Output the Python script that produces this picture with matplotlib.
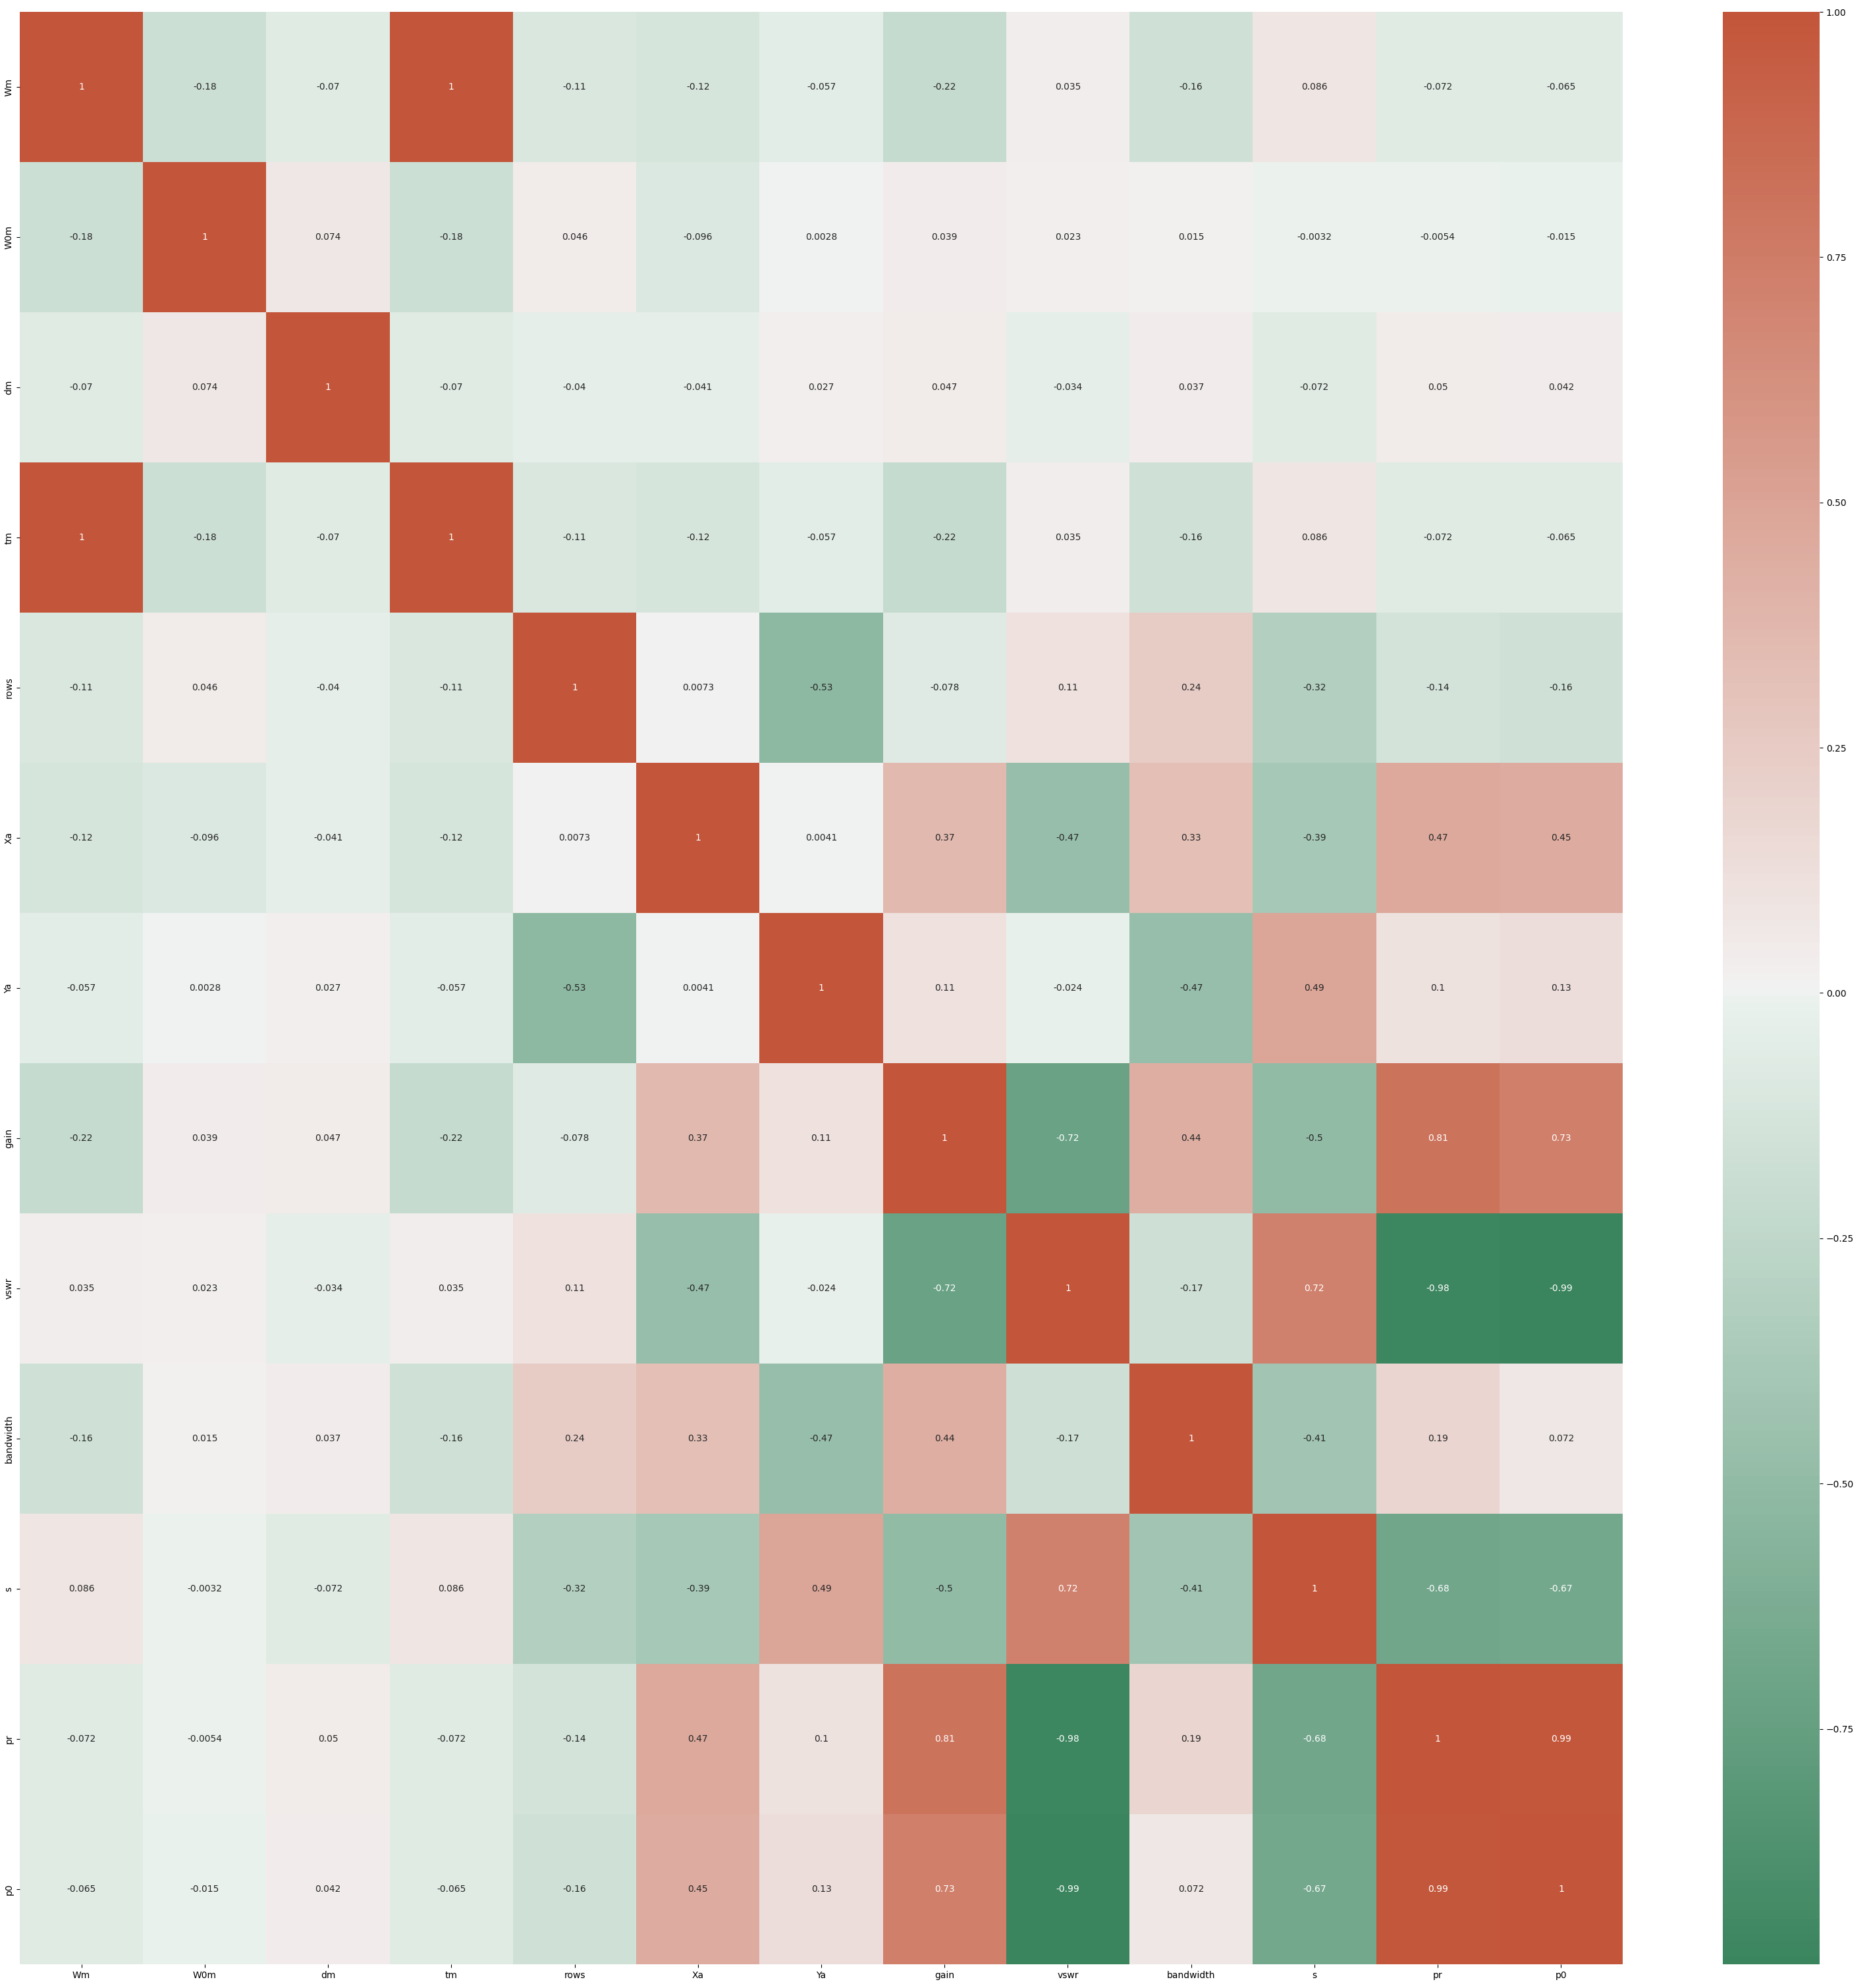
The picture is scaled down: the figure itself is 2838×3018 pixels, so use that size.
import matplotlib
matplotlib.use("Agg")
import matplotlib.pyplot as plt
import numpy as np
import pandas as pd
import seaborn as sns

labels = ["Wm", "W0m", "dm", "tm", "rows", "Xa", "Ya", "gain", "vswr",
          "bandwidth", "s", "pr", "p0"]

row_Wm = [1, -0.18, -0.07, 1, -0.11, -0.12, -0.057, -0.22, 0.035, -0.16, 0.086, -0.072, -0.065]
row_W0m = [-0.18, 1, 0.074, -0.18, 0.046, -0.096, 0.0028, 0.039, 0.023, 0.015, -0.0032, -0.0054, -0.015]
row_dm = [-0.07, 0.074, 1, -0.07, -0.04, -0.041, 0.027, 0.047, -0.034, 0.037, -0.072, 0.05, 0.042]
row_tm = [1, -0.18, -0.07, 1, -0.11, -0.12, -0.057, -0.22, 0.035, -0.16, 0.086, -0.072, -0.065]
row_rows = [-0.11, 0.046, -0.04, -0.11, 1, 0.0073, -0.53, -0.078, 0.11, 0.24, -0.32, -0.14, -0.16]
row_Xa = [-0.12, -0.096, -0.041, -0.12, 0.0073, 1, 0.0041, 0.37, -0.47, 0.33, -0.39, 0.47, 0.45]
row_Ya = [-0.057, 0.0028, 0.027, -0.057, -0.53, 0.0041, 1, 0.11, -0.024, -0.47, 0.49, 0.1, 0.13]
row_gain = [-0.22, 0.039, 0.047, -0.22, -0.078, 0.37, 0.11, 1, -0.72, 0.44, -0.5, 0.81, 0.73]
row_vswr = [0.035, 0.023, -0.034, 0.035, 0.11, -0.47, -0.024, -0.72, 1, -0.17, 0.72, -0.98, -0.99]
row_bandwidth = [-0.16, 0.015, 0.037, -0.16, 0.24, 0.33, -0.47, 0.44, -0.17, 1, -0.41, 0.19, 0.072]
row_s = [0.086, -0.0032, -0.072, 0.086, -0.32, -0.39, 0.49, -0.5, 0.72, -0.41, 1, -0.68, -0.67]
row_pr = [-0.072, -0.0054, 0.05, -0.072, -0.14, 0.47, 0.1, 0.81, -0.98, 0.19, -0.68, 1, 0.99]
row_p0 = [-0.065, -0.015, 0.042, -0.065, -0.16, 0.45, 0.13, 0.73, -0.99, 0.072, -0.67, 0.99, 1]

corr = pd.DataFrame([row_Wm, row_W0m, row_dm, row_tm, row_rows, row_Xa, row_Ya,
                     row_gain, row_vswr, row_bandwidth, row_s, row_pr, row_p0],
                    index=labels, columns=labels)

W, H = 2838, 3018
fig = plt.figure(figsize=(W / 100, H / 100), dpi=100)
ax = fig.add_axes([30 / W, 1 - 2982 / H, (2464 - 30) / W, (2982 - 18) / H])
cax = fig.add_axes([2616 / W, 1 - 2982 / H, (2763 - 2616) / W, (2982 - 18) / H])

cmap = sns.diverging_palette(145, 20, as_cmap=True)
sns.heatmap(corr, annot=True, cmap=cmap, ax=ax, cbar_ax=cax,
            annot_kws={"fontsize": 10})

ax.tick_params(axis="both", labelsize=10)
ax.set_yticklabels(labels, rotation=90, va="center")
ax.set_xticklabels(labels, rotation=0)
cax.tick_params(labelsize=10)

fig.savefig("out.png", dpi=100)
